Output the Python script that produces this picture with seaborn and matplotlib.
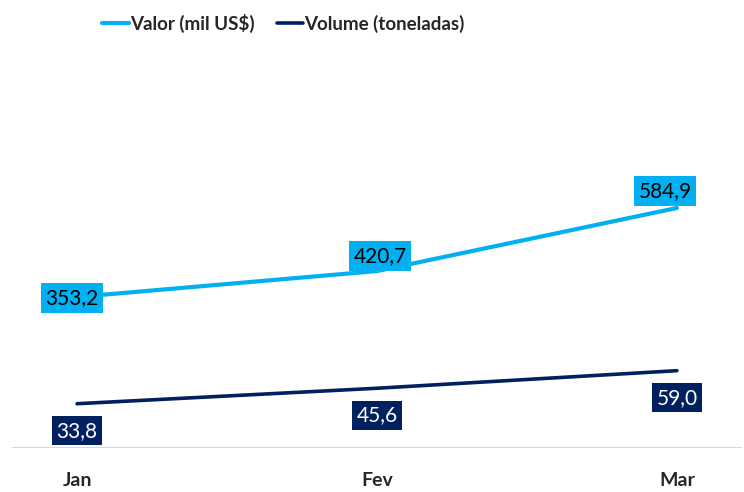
import pandas as pd
import matplotlib
matplotlib.use("Agg")
import matplotlib.pyplot as plt
import seaborn as sns

meses = ["Jan", "Fev", "Mar"]
valor = [353.2, 420.7, 584.9]
volume = [33.8, 45.6, 59.0]

cor_valor = "#00B0F0"
cor_volume = "#002060"

sns.set_style("white")
plt.rcParams["font.family"] = ["Lato", "DejaVu Sans"]

df = pd.DataFrame({"mes": meses, "x": range(len(meses)), "valor": valor, "volume": volume})

fig = plt.figure(figsize=(7.44, 4.92), dpi=100)
ax = fig.add_axes([0.0161, 0.0894, 0.9812, 0.7886])
ax2 = ax.twinx()

sns.lineplot(data=df, x="x", y="valor", ax=ax, color=cor_valor, linewidth=3.0,
             label="Valor (mil US$)", legend=False)
sns.lineplot(data=df, x="x", y="volume", ax=ax2, color=cor_volume, linewidth=2.6,
             label="Volume (toneladas)", legend=False)
for l in ax.lines + ax2.lines:
    l.set_solid_capstyle("round")

ax.set_xlim(-0.217, 2.217)
ax.set_ylim(-40, 970)
ax2.set_ylim(0, 296)

ax.set_xticks(range(len(meses)))
ax.set_xticklabels(meses, fontsize=14, fontweight="bold")
ax.tick_params(axis="x", length=0, pad=17)
ax.set_yticks([])
ax2.set_yticks([])
ax.set_xlabel("")
ax.set_ylabel("")
ax2.set_ylabel("")

for a in (ax, ax2):
    for s in ["top", "right", "left", "bottom"]:
        a.spines[s].set_visible(False)
ax.axhline(-40, color="#D9D9D9", linewidth=1.5, zorder=0)

fmt = lambda v: f"{v:.1f}".replace(".", ",")

off_valor = [(-5, -1), (3, 15), (-12, 17)]
for i, v in enumerate(valor):
    ax.annotate(fmt(v), (i, v), xytext=off_valor[i], textcoords="offset pixels",
                ha="center", va="center", fontsize=15, color="black", zorder=5,
                bbox=dict(boxstyle="square,pad=0.22", fc=cor_valor, ec="none"))

for i, v in enumerate(volume):
    ax2.annotate(fmt(v), (i, v), xytext=(0, -27), textcoords="offset pixels",
                 ha="center", va="center", fontsize=15, color="white", zorder=5,
                 bbox=dict(boxstyle="square,pad=0.22", fc=cor_volume, ec="none"))

h1, l1 = ax.get_legend_handles_labels()
h2, l2 = ax2.get_legend_handles_labels()
fig.legend(h1 + h2, l1 + l2, loc="center left", bbox_to_anchor=(0.115, 0.953),
           ncol=2, frameon=False, handlelength=1.4, handletextpad=0.05,
           columnspacing=1.2, prop={"weight": "bold", "size": 13.5})

fig.savefig("out.png", dpi=100)
